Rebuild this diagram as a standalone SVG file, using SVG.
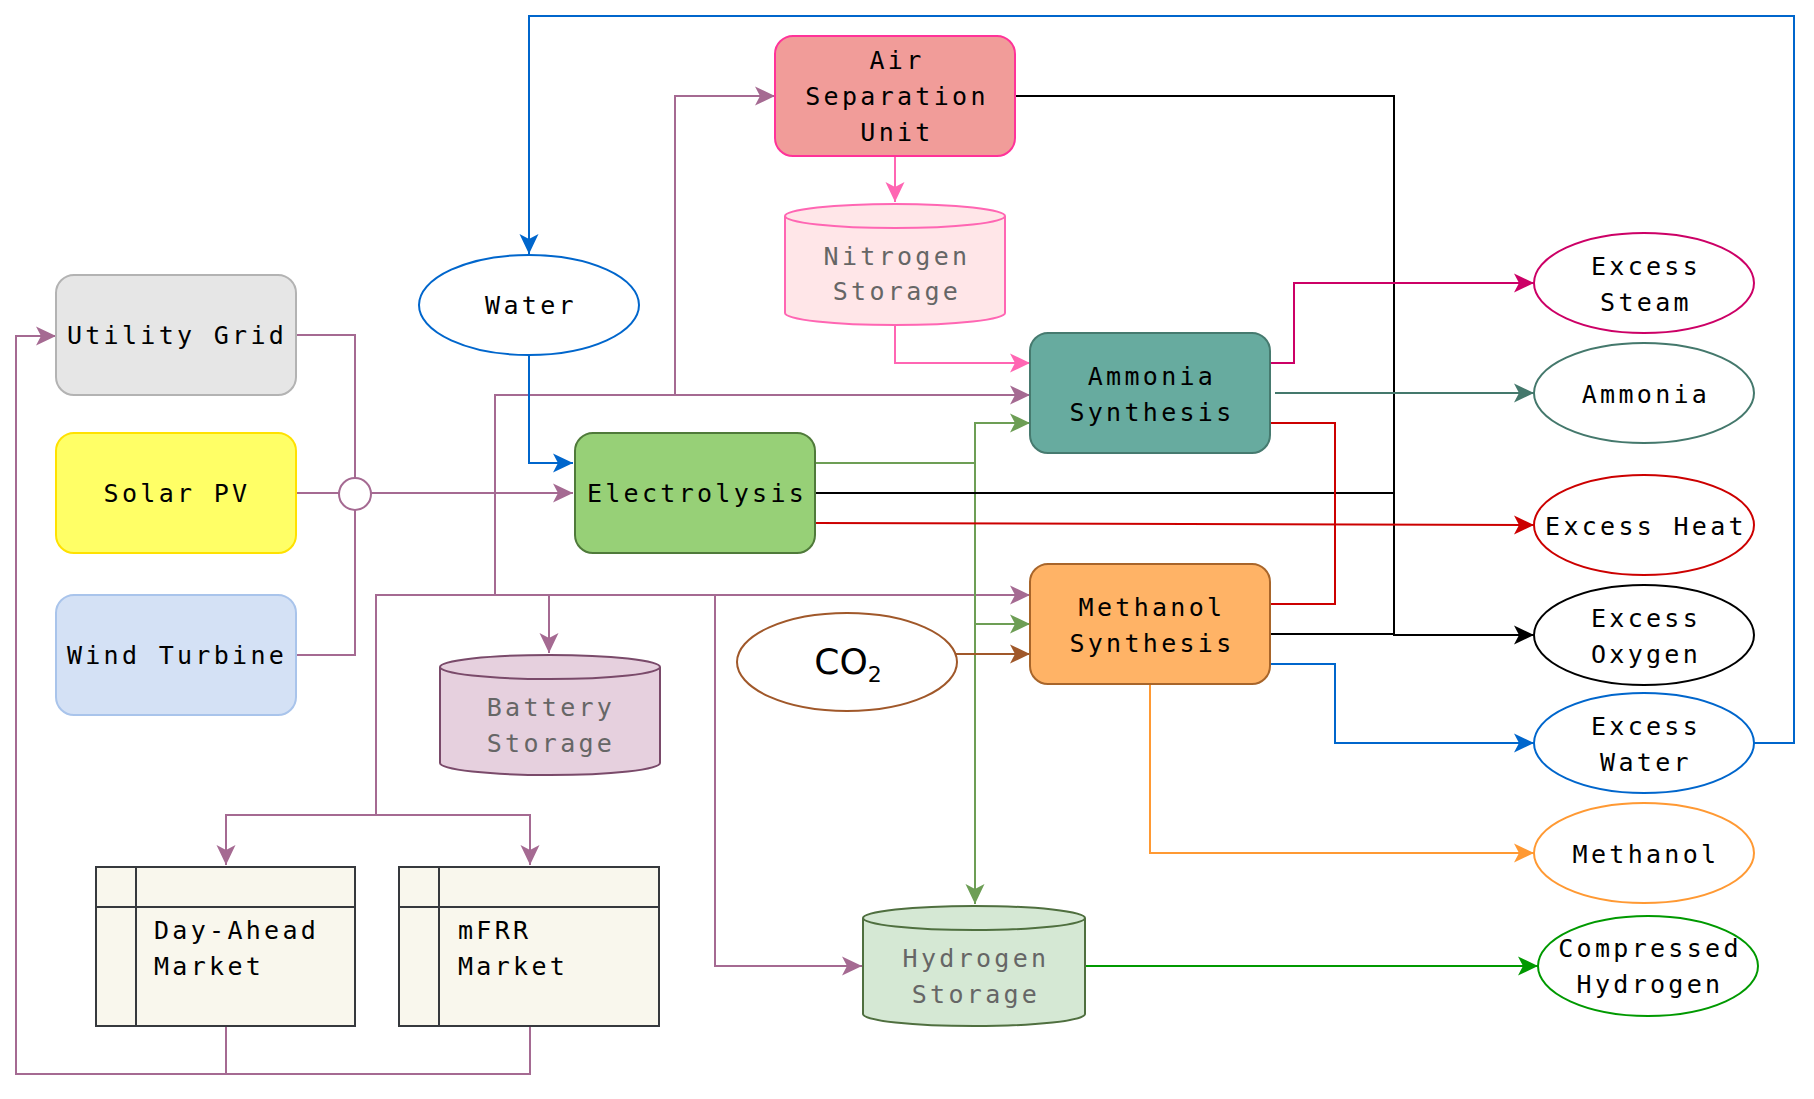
<svg xmlns="http://www.w3.org/2000/svg" width="1814" height="1099" viewBox="0 0 1814 1099">
<style>
.t{font-family:"DejaVu Sans Mono","Liberation Mono",monospace;font-size:25px;letter-spacing:3.3px;fill:#000;text-anchor:middle}
.g{fill:#666666}
.l{text-anchor:start}
.c{fill:none;stroke-width:2;stroke-linejoin:miter}
.p{stroke:#A56A92}.b{stroke:#0066CC}.k{stroke:#000}.r{stroke:#CC0000}.gr{stroke:#6D9E55}
.pk{stroke:#FF66B3}.mg{stroke:#CC0066}.tl{stroke:#44786C}.o{stroke:#FF9933}.dg{stroke:#009900}.br{stroke:#A0582A}
</style>
<defs>
<marker id="aP" viewBox="-21 -11 22 22" refX="0" refY="0" markerWidth="22" markerHeight="22" markerUnits="userSpaceOnUse" orient="auto"><path d="M0,0 L-20,-9.5 L-15,0 L-20,9.5 Z" fill="#A56A92"/></marker>
<marker id="aB" viewBox="-21 -11 22 22" refX="0" refY="0" markerWidth="22" markerHeight="22" markerUnits="userSpaceOnUse" orient="auto"><path d="M0,0 L-20,-9.5 L-15,0 L-20,9.5 Z" fill="#0066CC"/></marker>
<marker id="aK" viewBox="-21 -11 22 22" refX="0" refY="0" markerWidth="22" markerHeight="22" markerUnits="userSpaceOnUse" orient="auto"><path d="M0,0 L-20,-9.5 L-15,0 L-20,9.5 Z" fill="#000"/></marker>
<marker id="aR" viewBox="-21 -11 22 22" refX="0" refY="0" markerWidth="22" markerHeight="22" markerUnits="userSpaceOnUse" orient="auto"><path d="M0,0 L-20,-9.5 L-15,0 L-20,9.5 Z" fill="#CC0000"/></marker>
<marker id="aG" viewBox="-21 -11 22 22" refX="0" refY="0" markerWidth="22" markerHeight="22" markerUnits="userSpaceOnUse" orient="auto"><path d="M0,0 L-20,-9.5 L-15,0 L-20,9.5 Z" fill="#6D9E55"/></marker>
<marker id="aPk" viewBox="-21 -11 22 22" refX="0" refY="0" markerWidth="22" markerHeight="22" markerUnits="userSpaceOnUse" orient="auto"><path d="M0,0 L-20,-9.5 L-15,0 L-20,9.5 Z" fill="#FF66B3"/></marker>
<marker id="aM" viewBox="-21 -11 22 22" refX="0" refY="0" markerWidth="22" markerHeight="22" markerUnits="userSpaceOnUse" orient="auto"><path d="M0,0 L-20,-9.5 L-15,0 L-20,9.5 Z" fill="#CC0066"/></marker>
<marker id="aT" viewBox="-21 -11 22 22" refX="0" refY="0" markerWidth="22" markerHeight="22" markerUnits="userSpaceOnUse" orient="auto"><path d="M0,0 L-20,-9.5 L-15,0 L-20,9.5 Z" fill="#44786C"/></marker>
<marker id="aO" viewBox="-21 -11 22 22" refX="0" refY="0" markerWidth="22" markerHeight="22" markerUnits="userSpaceOnUse" orient="auto"><path d="M0,0 L-20,-9.5 L-15,0 L-20,9.5 Z" fill="#FF9933"/></marker>
<marker id="aD" viewBox="-21 -11 22 22" refX="0" refY="0" markerWidth="22" markerHeight="22" markerUnits="userSpaceOnUse" orient="auto"><path d="M0,0 L-20,-9.5 L-15,0 L-20,9.5 Z" fill="#009900"/></marker>
<marker id="aBr" viewBox="-21 -11 22 22" refX="0" refY="0" markerWidth="22" markerHeight="22" markerUnits="userSpaceOnUse" orient="auto"><path d="M0,0 L-20,-9.5 L-15,0 L-20,9.5 Z" fill="#A0582A"/></marker>
</defs>
<rect width="1814" height="1099" fill="#fff"/>

<g id="connectors">
<!-- purple power network -->
<path class="c p" d="M296,335 H355 V478"/>
<path class="c p" d="M296,493 H339"/>
<path class="c p" d="M296,655 H355 V510"/>
<path class="c p" d="M371,493 H573" marker-end="url(#aP)"/>
<path class="c p" d="M371,493 H495 V395 H1030" marker-end="url(#aP)"/>
<path class="c p" d="M495,395 H675 V96 H775" marker-end="url(#aP)"/>
<path class="c p" d="M495,493 V595 H1030" marker-end="url(#aP)"/>
<path class="c p" d="M549,595 V653" marker-end="url(#aP)"/>
<path class="c p" d="M715,595 V966 H862" marker-end="url(#aP)"/>
<path class="c p" d="M495,595 H376 V815 H226 V865" marker-end="url(#aP)"/>
<path class="c p" d="M376,815 H530 V865" marker-end="url(#aP)"/>
<path class="c p" d="M226,1026 V1074 H16 V336 H56" marker-end="url(#aP)"/>
<path class="c p" d="M530,1026 V1074 H226"/>
<!-- water -->
<path class="c b" d="M1754,743 H1794 V16 H529 V254" marker-end="url(#aB)"/>
<path class="c b" d="M529,355 V463 H573" marker-end="url(#aB)"/>
<!-- nitrogen -->
<path class="c pk" d="M895,156 V202" marker-end="url(#aPk)"/>
<path class="c pk" d="M895,325 V363 H1030" marker-end="url(#aPk)"/>
<!-- hydrogen -->
<path class="c gr" d="M815,463 H975 V423 H1030" marker-end="url(#aG)"/>
<path class="c gr" d="M975,463 V624 H1030" marker-end="url(#aG)"/>
<path class="c gr" d="M975,463 V904" marker-end="url(#aG)"/>
<!-- CO2 -->
<path class="c br" d="M956,654 H1030" marker-end="url(#aBr)"/>
<!-- oxygen -->
<path class="c k" d="M1015,96 H1394 V635 H1534" marker-end="url(#aK)"/>
<path class="c k" d="M815,493 H1394"/>
<path class="c k" d="M1270,634 H1394"/>
<!-- heat -->
<path class="c r" d="M815,523 L1534,525" marker-end="url(#aR)"/>
<path class="c r" d="M1270,423 H1335 V604 H1270"/>
<!-- steam -->
<path class="c mg" d="M1270,363 H1294 V283 H1534" marker-end="url(#aM)"/>
<!-- ammonia -->
<path class="c tl" d="M1275,393 H1534" marker-end="url(#aT)"/>
<!-- excess water -->
<path class="c b" d="M1270,664 H1335 V743 H1534" marker-end="url(#aB)"/>
<!-- methanol -->
<path class="c o" d="M1150,684 V853 H1534" marker-end="url(#aO)"/>
<!-- compressed hydrogen -->
<path class="c dg" d="M1085,966 H1538" marker-end="url(#aD)"/>
</g>

<g id="junction"><circle cx="355" cy="494" r="16" fill="#fff" stroke="#A56A92" stroke-width="2"/></g>

<g id="utility-grid"><rect x="56" y="275" width="240" height="120" rx="18" fill="#E6E6E6" stroke="#B3B3B3" stroke-width="2"/><text class="t" x="177" y="344">Utility Grid</text></g>
<g id="solar-pv"><rect x="56" y="433" width="240" height="120" rx="18" fill="#FFFF66" stroke="#FFE100" stroke-width="2"/><text class="t" x="177" y="502">Solar PV</text></g>
<g id="wind-turbine"><rect x="56" y="595" width="240" height="120" rx="18" fill="#D4E1F5" stroke="#A9C4EB" stroke-width="2"/><text class="t" x="177" y="664">Wind Turbine</text></g>

<g id="water"><ellipse cx="529" cy="305" rx="110" ry="50" fill="#fff" stroke="#0066CC" stroke-width="2"/><text class="t" x="531" y="314">Water</text></g>

<g id="asu"><rect x="775" y="36" width="240" height="120" rx="18" fill="#F19C99" stroke="#FF3399" stroke-width="2"/><text class="t" x="897" y="69">Air</text><text class="t" x="897" y="105">Separation</text><text class="t" x="897" y="141">Unit</text></g>

<g id="nitrogen-storage"><path d="M785,216 A110,12 0 0 1 1005,216 L1005,313 A110,12 0 0 1 785,313 Z" fill="#FFE6E8" stroke="#FF66B3" stroke-width="2"/><path d="M785,216 A110,12 0 0 0 1005,216" fill="none" stroke="#FF66B3" stroke-width="2"/><text class="t g" x="897" y="265">Nitrogen</text><text class="t g" x="897" y="300">Storage</text></g>

<g id="electrolysis"><rect x="575" y="433" width="240" height="120" rx="18" fill="#97D077" stroke="#4F7A3A" stroke-width="2"/><text class="t" x="697" y="502">Electrolysis</text></g>

<g id="ammonia-synthesis"><rect x="1030" y="333" width="240" height="120" rx="18" fill="#67AB9F" stroke="#467A6F" stroke-width="2"/><text class="t" x="1152" y="385">Ammonia</text><text class="t" x="1152" y="421">Synthesis</text></g>

<g id="methanol-synthesis"><rect x="1030" y="564" width="240" height="120" rx="18" fill="#FFB366" stroke="#A8652A" stroke-width="2"/><text class="t" x="1152" y="616">Methanol</text><text class="t" x="1152" y="652">Synthesis</text></g>

<g id="co2"><ellipse cx="847" cy="662" rx="110" ry="49" fill="#fff" stroke="#A0582A" stroke-width="2"/><text x="848" y="674" font-family="'DejaVu Sans',sans-serif" font-size="36" text-anchor="middle">CO<tspan font-size="22" dy="8">2</tspan></text></g>

<g id="battery-storage"><path d="M440,667 A110,12 0 0 1 660,667 L660,763 A110,12 0 0 1 440,763 Z" fill="#E6D0DE" stroke="#7A4A6A" stroke-width="2"/><path d="M440,667 A110,12 0 0 0 660,667" fill="none" stroke="#7A4A6A" stroke-width="2"/><text class="t g" x="551" y="716">Battery</text><text class="t g" x="551" y="752">Storage</text></g>

<g id="hydrogen-storage"><path d="M863,918 A111,12 0 0 1 1085,918 L1085,1014 A111,12 0 0 1 863,1014 Z" fill="#D5E8D4" stroke="#4F6F3F" stroke-width="2"/><path d="M863,918 A111,12 0 0 0 1085,918" fill="none" stroke="#4F6F3F" stroke-width="2"/><text class="t g" x="976" y="967">Hydrogen</text><text class="t g" x="976" y="1003">Storage</text></g>

<g id="day-ahead-market"><rect x="96" y="867" width="259" height="159" fill="#F9F7ED" stroke="#36393D" stroke-width="2"/><path d="M136,867 V1026 M96,907 H355" stroke="#36393D" stroke-width="2" fill="none"/><text class="t l" x="154" y="939">Day-Ahead</text><text class="t l" x="154" y="975">Market</text></g>

<g id="mfrr-market"><rect x="399" y="867" width="260" height="159" fill="#F9F7ED" stroke="#36393D" stroke-width="2"/><path d="M439,867 V1026 M399,907 H659" stroke="#36393D" stroke-width="2" fill="none"/><text class="t l" x="458" y="939">mFRR</text><text class="t l" x="458" y="975">Market</text></g>

<g id="excess-steam"><ellipse cx="1644" cy="283" rx="110" ry="50" fill="#fff" stroke="#CC0066" stroke-width="2"/><text class="t" x="1646" y="275">Excess</text><text class="t" x="1646" y="311">Steam</text></g>
<g id="ammonia"><ellipse cx="1644" cy="393" rx="110" ry="50" fill="#fff" stroke="#44786C" stroke-width="2"/><text class="t" x="1646" y="403">Ammonia</text></g>
<g id="excess-heat"><ellipse cx="1644" cy="525" rx="110" ry="50" fill="#fff" stroke="#CC0000" stroke-width="2"/><text class="t" x="1646" y="535">Excess Heat</text></g>
<g id="excess-oxygen"><ellipse cx="1644" cy="635" rx="110" ry="50" fill="#fff" stroke="#000" stroke-width="2"/><text class="t" x="1646" y="627">Excess</text><text class="t" x="1646" y="663">Oxygen</text></g>
<g id="excess-water"><ellipse cx="1644" cy="743" rx="110" ry="50" fill="#fff" stroke="#0066CC" stroke-width="2"/><text class="t" x="1646" y="735">Excess</text><text class="t" x="1646" y="771">Water</text></g>
<g id="methanol"><ellipse cx="1644" cy="853" rx="110" ry="50" fill="#fff" stroke="#FF9933" stroke-width="2"/><text class="t" x="1646" y="863">Methanol</text></g>
<g id="compressed-hydrogen"><ellipse cx="1648" cy="966" rx="110" ry="50" fill="#fff" stroke="#009900" stroke-width="2"/><text class="t" x="1650" y="957">Compressed</text><text class="t" x="1650" y="993">Hydrogen</text></g>
</svg>
